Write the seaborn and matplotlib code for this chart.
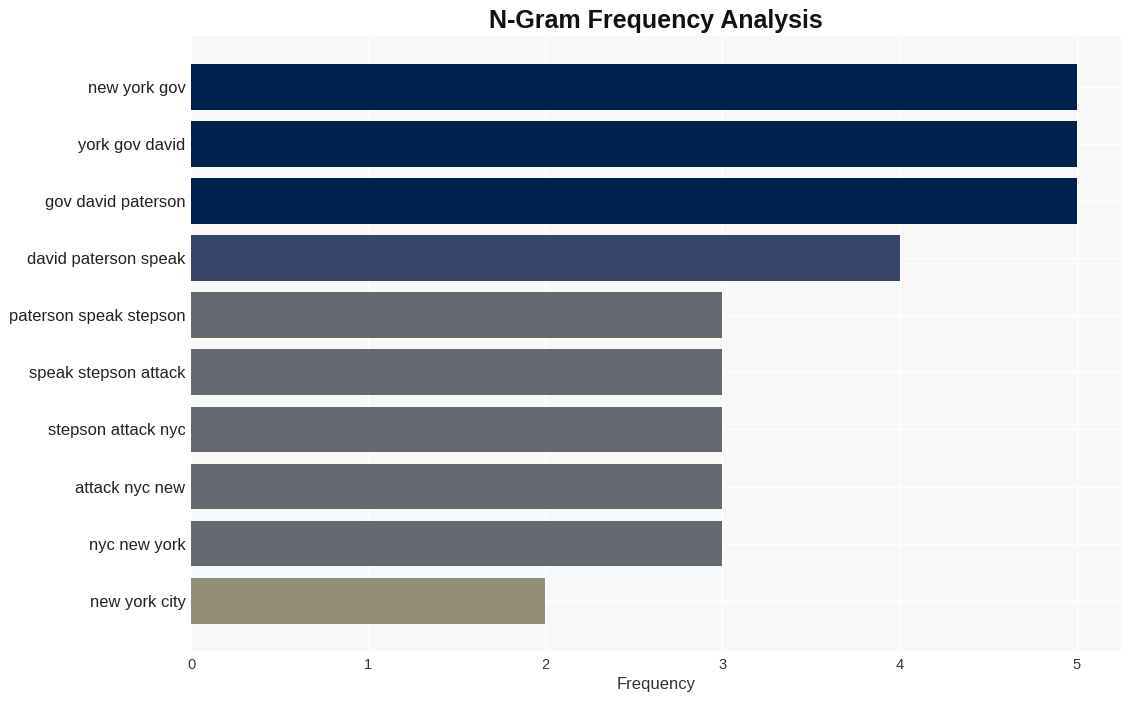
import matplotlib
matplotlib.use("Agg")
import matplotlib.pyplot as plt
import seaborn as sns
import pandas as pd

ngrams = ["new york gov", "york gov david", "gov david paterson", "david paterson speak",
          "paterson speak stepson", "speak stepson attack", "stepson attack nyc",
          "attack nyc new", "nyc new york", "new york city"]
frequency = [5, 5, 5, 4, 3, 3, 3, 3, 3, 2]
color_by_freq = {5: "#00224e", 4: "#35456c", 3: "#666970", 2: "#948e77"}

df = pd.DataFrame({"ngram": ngrams, "freq": frequency})

sns.set_theme(style="whitegrid")
plt.rcParams["font.family"] = ["Liberation Sans", "DejaVu Sans"]

fig = plt.figure(figsize=(11.31, 7.01), dpi=100)
ax = fig.add_axes([191/1131, 1-651/701, (1121-191)/1131, (651-36)/701])
ax.set_facecolor("#f8f8f8")

sns.barplot(data=df, y="ngram", x="freq", hue="freq", palette=color_by_freq,
            dodge=False, legend=False, width=0.8, ax=ax, saturation=1, linewidth=0)

ax.set_xlim(0, 5.25)
ax.set_ylim(9.88, -0.89)
ax.grid(True, color="white", linewidth=1)
for s in ax.spines.values():
    s.set_visible(False)
ax.tick_params(axis="y", labelsize=11.9, colors="#222222", length=0, pad=4)
ax.tick_params(axis="x", labelsize=10.5, colors="#333333", length=0, pad=5)
ax.set_xticks([0, 1, 2, 3, 4, 5])
ax.set_ylabel("")
ax.set_xlabel("Frequency", fontsize=12, color="#333333", labelpad=4)
fig.text(656/1131, 1-21/701, "N-Gram Frequency Analysis", ha="center", va="center",
         fontsize=18, fontweight="bold", color="#111111")

fig.savefig("out.png", dpi=100)
